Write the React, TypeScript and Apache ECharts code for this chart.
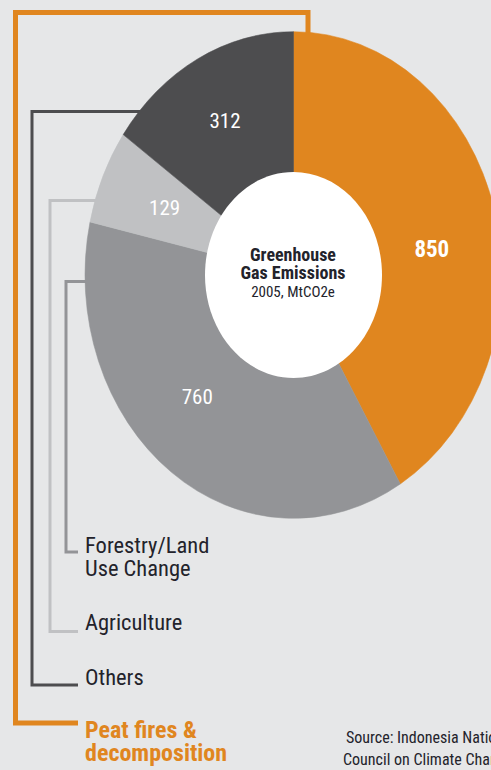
import React, { useEffect, useRef } from "react";
import * as echarts from "echarts";

// ---- data ----
const categories = ["Peat fires & decomposition", "Forestry/Land Use Change", "Agriculture", "Others"];
const values = [850, 760, 129, 312];
const legendLabels = [["Peat fires &", "decomposition"], ["Forestry/Land", "Use Change"], ["Agriculture"], ["Others"]];
const centerTitle = ["Greenhouse", "Gas Emissions"];
const centerSubtitle = "2005, MtCO2e";
const sourceLines = ["Source: Indonesia National", "Council on Climate Change"];

// ---- styles ----
const COLORS = ["#e0861f", "#939497", "#c0c1c3", "#4d4d4f"];
const BG = "#e6e7e8";
const TEXT = "#23232b";
const FONT = '"Liberation Sans Narrow", "Roboto Condensed", "DejaVu Sans Condensed", sans-serif';
const CX = 293.5;
const CY = 275;
const R = 208.5;
const SY = 1.167;
const HOLE_RX = 88.5;
const HOLE_RY = 103;
const LABEL_R = [140, 142, 141, 149];
const LABEL_SHIFT_DEG = [6.5, 6.8, 0, 0];
const LABEL_BOLD = [true, false, false, false];
const LABEL_SIZE = [23, 21, 21, 21];

export default function App() {
  const ref = useRef<HTMLDivElement>(null);
  useEffect(() => {
    if (!ref.current) return;
    const chart = echarts.init(ref.current, undefined, { renderer: "svg" });
    const total = values.reduce((a, b) => a + b, 0);

    const renderItem = (params: any, api: any) => {
      const i = params.dataIndex;
      let before = 0;
      for (let k = 0; k < i; k++) before += values[k];
      const v = api.value(0);
      const start = -Math.PI / 2 + (before / total) * Math.PI * 2;
      const end = start + (v / total) * Math.PI * 2;
      const mid = (start + end) / 2 + (LABEL_SHIFT_DEG[i] * Math.PI) / 180;
      const lx = CX + LABEL_R[i] * Math.cos(mid);
      const ly = CY + LABEL_R[i] * Math.sin(mid) * SY;
      return {
        type: "group",
        children: [
          {
            type: "sector",
            x: CX,
            y: CY,
            scaleX: 1,
            scaleY: SY,
            shape: { cx: 0, cy: 0, r0: 0, r: R, startAngle: start, endAngle: end, clockwise: true },
            style: { fill: COLORS[i], stroke: COLORS[i], lineWidth: 0.5 },
          },
          {
            type: "text",
            x: lx,
            y: ly,
            z2: 10,
            style: {
              text: String(v),
              fill: "#ffffff",
              fontSize: LABEL_SIZE[i],
              fontFamily: FONT,
              fontWeight: LABEL_BOLD[i] ? "bold" : "normal",
              textAlign: "center",
              textVerticalAlign: "middle",
              align: "center",
              verticalAlign: "middle",
            },
          },
        ],
      };
    };

    const legendPos = [
      { ys: [729.5, 753], color: COLORS[0], bold: true, size: 24 },
      { ys: [544.5, 567.5], color: TEXT, bold: false, size: 22.5 },
      { ys: [622], color: TEXT, bold: false, size: 22.5 },
      { ys: [677], color: TEXT, bold: false, size: 22.5 },
    ];

    const lineW = [5, 3, 3, 3];
    const brackets = [
      [[308, 40], [308, 12.5], [15.5, 12.5], [15.5, 723], [78, 723]],
      [[105, 281.5], [66, 281.5], [66, 552], [78, 552]],
      [[115, 200.5], [50, 200.5], [50, 631.5], [78, 631.5]],
      [[160, 111.5], [32, 111.5], [32, 685], [78, 685]],
    ];

    const graphics: any[] = [];
    brackets.forEach((pts, i) => {
      graphics.push({
        type: "polyline",
        z: 1,
        shape: { points: pts },
        style: { stroke: COLORS[i], lineWidth: lineW[i], fill: null, lineJoin: "miter" },
      });
    });
    legendLabels.forEach((lines, i) => {
      lines.forEach((t, j) => {
        graphics.push({
          type: "text",
          z: 5,
          x: 85,
          y: legendPos[i].ys[j],
          style: {
            text: t,
            fill: legendPos[i].color,
            fontSize: legendPos[i].size,
            lineHeight: 20,
            fontFamily: FONT,
            fontWeight: legendPos[i].bold ? "bold" : "normal",
            textAlign: "left",
            textVerticalAlign: "middle",
          },
        });
      });
    });
    graphics.push({
      type: "ellipse",
      z: 100,
      shape: { cx: CX, cy: CY, rx: HOLE_RX, ry: HOLE_RY },
      style: { fill: "#ffffff" },
    });
    const titleY = [254, 272];
    centerTitle.forEach((t, j) => {
      graphics.push({
        type: "text",
        z: 101,
        x: 293,
        y: titleY[j],
        style: {
          text: t,
          fill: TEXT,
          fontSize: 18,
          lineHeight: 16,
          fontFamily: FONT,
          fontWeight: "bold",
          textAlign: "center",
          textVerticalAlign: "middle",
        },
      });
    });
    graphics.push({
      type: "text",
      z: 101,
      x: 293,
      y: 291.5,
      style: {
        text: centerSubtitle,
        fill: TEXT,
        fontSize: 15,
        lineHeight: 14,
        fontFamily: FONT,
        textAlign: "center",
        textVerticalAlign: "middle",
      },
    });
    const srcY = [737, 759];
    sourceLines.forEach((t, j) => {
      graphics.push({
        type: "text",
        z: 5,
        x: j === 0 ? 346 : 343,
        y: srcY[j],
        style: {
          text: t,
          fill: TEXT,
          fontSize: 16,
          lineHeight: 19,
          fontFamily: FONT,
          textAlign: "left",
          textVerticalAlign: "middle",
        },
      });
    });

    chart.setOption({
      animation: false,
      backgroundColor: BG,
      series: [
        {
          type: "custom",
          name: "Greenhouse Gas Emissions",
          coordinateSystem: "none",
          z: 2,
          data: values.map((v, i) => ({ name: categories[i], value: [v] })),
          renderItem,
        },
      ],
      graphic: { elements: graphics },
    });
    return () => chart.dispose();
  }, []);
  return (
    <div
      ref={ref}
      style={{ position: "fixed", left: 0, top: 0, width: 491, height: 770, background: BG }}
    />
  );
}
